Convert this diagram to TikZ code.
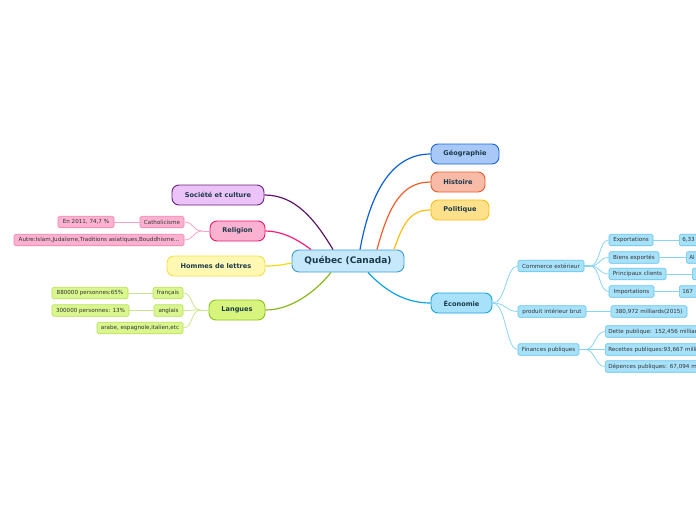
\documentclass[tikz,border=0pt]{standalone}
\usepackage{fontspec}
\setmainfont{DejaVu Sans}
\definecolor{qfill}{HTML}{C5E9FB}\definecolor{qdraw}{HTML}{3D9BD8}
\definecolor{geofill}{HTML}{A8C9F8}\definecolor{geodraw}{HTML}{1A66D9}\definecolor{geoline}{HTML}{0B5FD6}
\definecolor{hisfill}{HTML}{F8BBA8}\definecolor{hisdraw}{HTML}{F05A2A}\definecolor{hisline}{HTML}{F25C2A}
\definecolor{polfill}{HTML}{FFE18C}\definecolor{poldraw}{HTML}{FFBE10}\definecolor{polline}{HTML}{FFBE10}
\definecolor{ecofill}{HTML}{A8E2FA}\definecolor{ecodraw}{HTML}{1AA3DD}\definecolor{ecoline}{HTML}{0BA3E8}
\definecolor{socfill}{HTML}{ECC3F8}\definecolor{socdraw}{HTML}{6B1F7D}\definecolor{socline}{HTML}{5E1468}
\definecolor{relfill}{HTML}{FBB2D0}\definecolor{reldraw}{HTML}{E8176E}\definecolor{relline}{HTML}{FF1A78}
\definecolor{homfill}{HTML}{FFF8B3}\definecolor{homdraw}{HTML}{F2E04A}\definecolor{homline}{HTML}{F5D90F}
\definecolor{lanfill}{HTML}{D7F57C}\definecolor{landraw}{HTML}{8CC21C}\definecolor{lanline}{HTML}{8AB81C}
\definecolor{relsub}{HTML}{F47FAE}\definecolor{relsubline}{HTML}{F7A3C6}
\definecolor{lansubfill}{HTML}{D9F78E}\definecolor{lansub}{HTML}{B9E05A}\definecolor{lansubline}{HTML}{C9E68F}
\definecolor{ecosub}{HTML}{63C3EC}\definecolor{ecosubline}{HTML}{8AD4F3}
\definecolor{maintext}{HTML}{1B3A4B}
\definecolor{subtext}{HTML}{333333}
\tikzset{
  mainnode/.style={draw, line width=0.9pt, rounded corners=7pt, inner sep=0pt, minimum height=20pt,
    text=maintext, font=\fontsize{6.6}{7}\selectfont\bfseries},
  subnode/.style={draw, line width=0.6pt, rounded corners=1.5pt, inner sep=0pt, minimum height=11.5pt,
    text=subtext, font=\fontsize{5.6}{6}\selectfont},
  cutnode/.style={subnode, anchor=west, text width=80pt, align=left, inner xsep=3pt},
  mainline/.style={line width=1.2pt},
  subline/.style={line width=0.8pt},
}
\begin{document}
\begin{tikzpicture}[x=1pt,y=-1pt]
\useasboundingbox (0,0) rectangle (696,520);
\clip (0,0) rectangle (696,520);
% central
\node[mainnode, fill=qfill, draw=qdraw, minimum width=112pt, minimum height=22pt,
  font=\fontsize{9}{10}\selectfont\bfseries] (q) at (348,261) {Québec (Canada)};
% main branches
\node[mainnode, fill=geofill, draw=geodraw, minimum width=68pt] (geo) at (465,154) {Géographie};
\node[mainnode, fill=hisfill, draw=hisdraw, minimum width=54pt] (his) at (458,182) {Histoire};
\node[mainnode, fill=polfill, draw=poldraw, minimum width=58pt] (pol) at (460,210) {Politique};
\node[mainnode, fill=ecofill, draw=ecodraw, minimum width=61pt] (eco) at (461.5,303) {Économie};
\node[mainnode, fill=socfill, draw=socdraw, minimum width=92pt] (soc) at (218,195) {Société et culture};
\node[mainnode, fill=relfill, draw=reldraw, minimum width=55pt] (rel) at (237.5,231) {Religion};
\node[mainnode, fill=homfill, draw=homdraw, minimum width=98pt] (hom) at (216,266) {Hommes de lettres};
\node[mainnode, fill=lanfill, draw=landraw, minimum width=56pt] (lan) at (237,310) {Langues};

\draw[mainline, geoline] ([xshift=12pt]q.north) .. controls +(10,-55) and +(-40,0) .. (geo.west);
\draw[mainline, hisline] ([xshift=29pt]q.north) .. controls +(12,-45) and +(-28,0) .. (his.west);
\draw[mainline, polline] ([xshift=46pt]q.north) .. controls +(10,-30) and +(-18,0) .. (pol.west);
\draw[mainline, ecoline] ([xshift=20pt]q.south) .. controls +(17,18) and +(-26,0) .. (eco.west);
\draw[mainline, socline] ([xshift=-15pt]q.north) .. controls +(-18,-30) and +(31,0) .. (soc.east);
\draw[mainline, relline] ([xshift=-37pt]q.north) .. controls +(-16,-12) and +(15,0) .. (rel.east);
\draw[mainline, homline] ([yshift=-2pt]q.west) .. controls +(-10,2) and +(10,0) .. (hom.east);
\draw[mainline, lanline] ([xshift=-17pt]q.south) .. controls +(-16,20) and +(25,0) .. (lan.east);

% Religion children
\node[subnode, fill=relfill, draw=relsub, minimum width=44pt] (cat) at (162,222) {Catholicisme};
\node[subnode, fill=relfill, draw=relsub, minimum width=56pt] (en) at (86,222) {En 2011, 74,7 \%};
\node[subnode, fill=relfill, draw=relsub, minimum width=170pt] (aut) at (99,240) {Autre:Islam,Judaïsme,Traditions asiatiques,Bouddhisme...};
\coordinate (relj) at ([xshift=-7pt]rel.west);
\draw[subline, relsubline] (rel.west) -- (relj);
\draw[subline, relsubline] (relj) .. controls +(-10,0) and +(10,0) .. (cat.east);
\draw[subline, relsubline] (relj) .. controls +(-10,0) and +(10,0) .. (aut.east);
\draw[subline, relsubline] (cat.west) -- (en.east);

% Langues children
\node[subnode, fill=lansubfill, draw=lansub, minimum width=30pt] (fr) at (168,293) {français};
\node[subnode, fill=lansubfill, draw=lansub, minimum width=76pt] (fr2) at (90,293) {880000 personnes:65\%};
\node[subnode, fill=lansubfill, draw=lansub, minimum width=29pt] (an) at (168.5,310.5) {anglais};
\node[subnode, fill=lansubfill, draw=lansub, minimum width=77pt] (an2) at (90.5,310.5) {300000 personnes:  13\%};
\node[subnode, fill=lansubfill, draw=lansub, minimum width=86pt] (ar) at (140,328) {arabe, espagnole,italien,etc};
\coordinate (lanj) at ([xshift=-8pt]lan.west);
\draw[subline, lansubline] (lan.west) -- (lanj);
\draw[subline, lansubline] (lanj) .. controls +(-10,0) and +(10,0) .. (fr.east);
\draw[subline, lansubline] (lanj) .. controls +(-10,0) and +(10,0) .. (an.east);
\draw[subline, lansubline] (lanj) .. controls +(-10,0) and +(10,0) .. (ar.east);
\draw[subline, lansubline] (fr.west) -- (fr2.east);
\draw[subline, lansubline] (an.west) -- (an2.east);

% Economie children
\node[subnode, fill=ecofill, draw=ecosub, minimum width=66pt] (ce) at (551,266) {Commerce extérieur};
\node[subnode, fill=ecofill, draw=ecosub, minimum width=68pt] (pib) at (552,311.5) {produit intérieur brut};
\node[subnode, fill=ecofill, draw=ecosub, minimum width=61pt] (fp) at (548.5,349.5) {Finances publiques};
\draw[subline, ecosubline] (eco.east) .. controls +(14,0) and +(-12,0) .. (ce.west);
\draw[subline, ecosubline] (eco.east) .. controls +(14,0) and +(-12,0) .. (pib.west);
\draw[subline, ecosubline] (eco.east) .. controls +(14,0) and +(-12,0) .. (fp.west);

\node[subnode, fill=ecofill, draw=ecosub, minimum width=44pt] (ex) at (631,240) {Exportations};
\node[subnode, fill=ecofill, draw=ecosub, minimum width=50pt] (be) at (634,257.5) {Biens exportés};
\node[subnode, fill=ecofill, draw=ecosub, minimum width=57pt] (pc) at (637.5,274) {Principaux clients};
\node[subnode, fill=ecofill, draw=ecosub, minimum width=45pt] (im) at (631.5,291.5) {Importations};
\coordinate (cej) at ([xshift=6pt]ce.east);
\draw[line width=1.6pt, ecosubline] (ce.east) -- (cej);
\foreach \n in {ex,be,pc,im}{
  \draw[subline, ecosubline] (cej) .. controls +(10,0) and +(-10,0) .. (\n.west);
}
\node[cutnode, fill=ecofill, draw=ecosub] (ex2) at (679,240) {6,33};
\node[cutnode, fill=ecofill, draw=ecosub] (be2) at (686,257.5) {Al};
\node[cutnode, fill=ecofill, draw=ecosub] (pc2) at (692,274) {};
\node[cutnode, fill=ecofill, draw=ecosub] (im2) at (679,291.5) {167};
\draw[subline, ecosubline] (ex.east) -- (ex2.west);
\draw[subline, ecosubline] (be.east) -- (be2.west);
\draw[subline, ecosubline] (pc.east) -- (pc2.west);
\draw[subline, ecosubline] (im.east) -- (im2.west);

\node[subnode, fill=ecofill, draw=ecosub, minimum width=76pt] (pib2) at (649,311.5) {380,972 milliards(2015)};
\draw[subline, ecosubline] (pib.east) -- (pib2.west);

\node[cutnode, fill=ecofill, draw=ecosub, text width=120pt] (dp) at (605,331.5) {Dette publique: 152,456 milliards};
\node[cutnode, fill=ecofill, draw=ecosub, text width=120pt] (rp) at (605,349.5) {Recettes publiques:93,667 milliards};
\node[cutnode, fill=ecofill, draw=ecosub, text width=120pt] (dep) at (605,366.5) {Dépences publiques: 67,094 milliards};
\coordinate (fpj) at ([xshift=6pt]fp.east);
\draw[line width=1.6pt, ecosubline] (fp.east) -- (fpj);
\foreach \n in {dp,rp,dep}{
  \draw[subline, ecosubline] (fpj) .. controls +(10,0) and +(-10,0) .. (\n.west);
}
\end{tikzpicture}
\end{document}
